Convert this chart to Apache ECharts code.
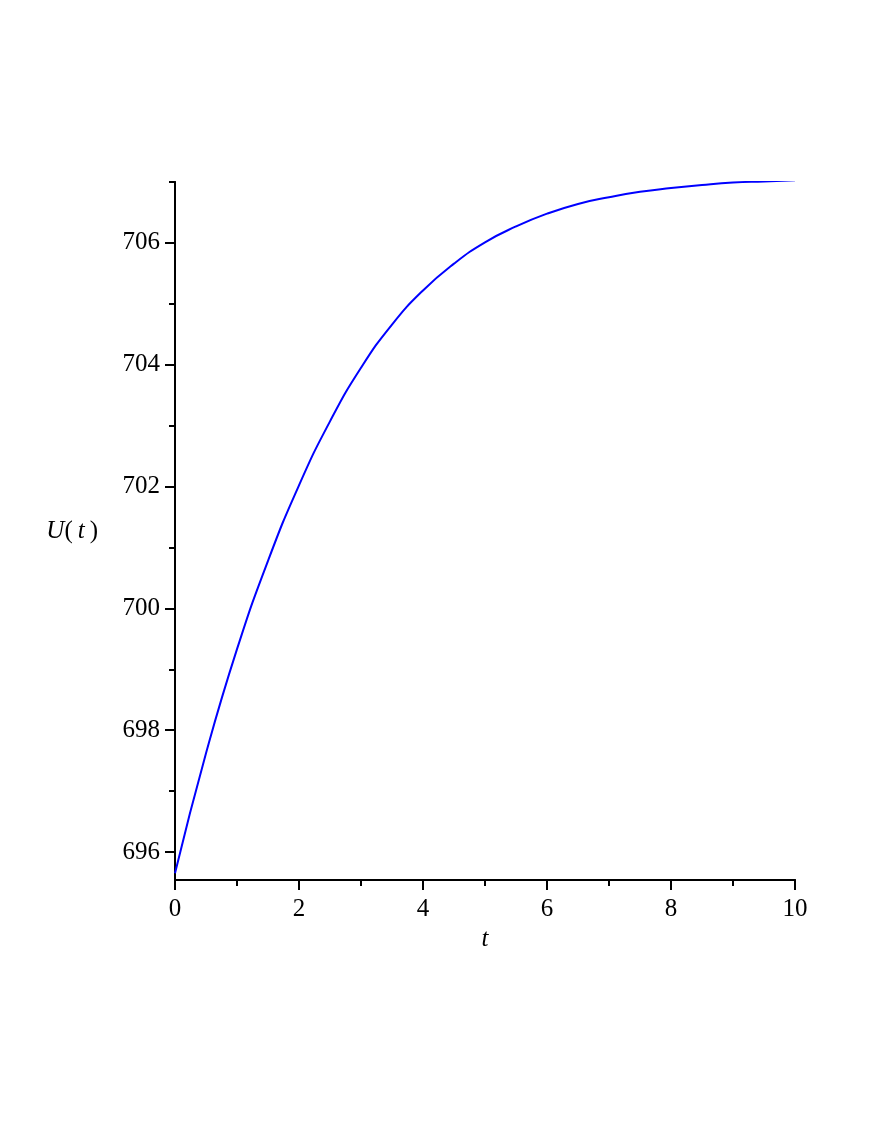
<!DOCTYPE html>
<html lang="en" style="height: 100%">
<head>
    <meta charset="utf-8">
</head>
<body style="height: 100%; margin: 0; background: #fff">
<div id="container" style="width: 872px; height: 1128px"></div>

<script type="text/javascript" src="https://fastly.jsdelivr.net/npm/echarts@6/dist/echarts.min.js"></script>
<script type="text/javascript">
    // U(t) every 0.5
    var tValues = [0, 0.5, 1, 1.5, 2, 2.5, 3, 3.5, 4, 4.5, 5, 5.5, 6, 6.5, 7, 7.5, 8, 8.5, 9, 9.5, 10];
    var uValues = [695.65, 697.62, 699.33, 700.78, 702.02, 703.07, 703.95, 704.66, 705.22, 705.66, 706.01, 706.27, 706.48, 706.64, 706.75, 706.84, 706.9, 706.95, 706.99, 707.01, 707.03];

    var xMajor = [0, 2, 4, 6, 8, 10];
    var xMinor = [1, 3, 5, 7, 9];
    var yMajor = [696, 698, 700, 702, 704, 706];
    var yMinor = [697, 699, 701, 703, 705, 707];

    var dom = document.getElementById('container');
    var myChart = echarts.init(dom);

    var font = 'Liberation Serif';
    var axisLine = { show: true, onZero: false, lineStyle: { color: '#000', width: 2 } };

    function xAxis(ticks, len, labels) {
        return {
            type: 'value', min: 0, max: 10, position: 'bottom',
            axisLine: axisLine,
            splitLine: { show: false },
            axisTick: { show: true, customValues: ticks, length: len, lineStyle: { color: '#000', width: 2 } },
            axisLabel: { show: labels, customValues: ticks, margin: 17, color: '#000', fontFamily: font, fontSize: 25 },
            name: labels ? 't' : '',
            nameLocation: 'middle',
            nameGap: 47,
            nameTextStyle: { color: '#000', fontFamily: font, fontSize: 25, fontStyle: 'italic' }
        };
    }

    function yAxis(ticks, len, labels) {
        return {
            type: 'value', min: 695.54, max: 707, position: 'left',
            axisLine: axisLine,
            splitLine: { show: false },
            axisTick: { show: true, customValues: ticks, length: len, lineStyle: { color: '#000', width: 2 } },
            axisLabel: { show: labels, customValues: ticks, margin: 15, color: '#000', fontFamily: font, fontSize: 25 },
            name: labels ? '{i|U}({i|\u2009t\u2009})' : '',
            nameLocation: 'middle',
            nameRotate: 0,
            nameGap: 77,
            nameTextStyle: {
                color: '#000', fontFamily: font, fontSize: 25,
                rich: { i: { fontFamily: font, fontSize: 25, fontStyle: 'italic', color: '#000' } }
            }
        };
    }

    var option = {
        animation: false,
        grid: { left: 175, right: 77, top: 182, bottom: 248 },
        xAxis: [xAxis(xMajor, 10, true), xAxis(xMinor, 6, false)],
        yAxis: [yAxis(yMajor, 10, true), yAxis(yMinor, 6, false)],
        series: [{
            type: 'line',
            data: tValues.map(function (t, i) { return [t, uValues[i]]; }),
            smooth: 0.5,
            showSymbol: false,
            lineStyle: { color: '#0000ff', width: 2 }
        }]
    };

    myChart.setOption(option);
</script>
</body>
</html>
